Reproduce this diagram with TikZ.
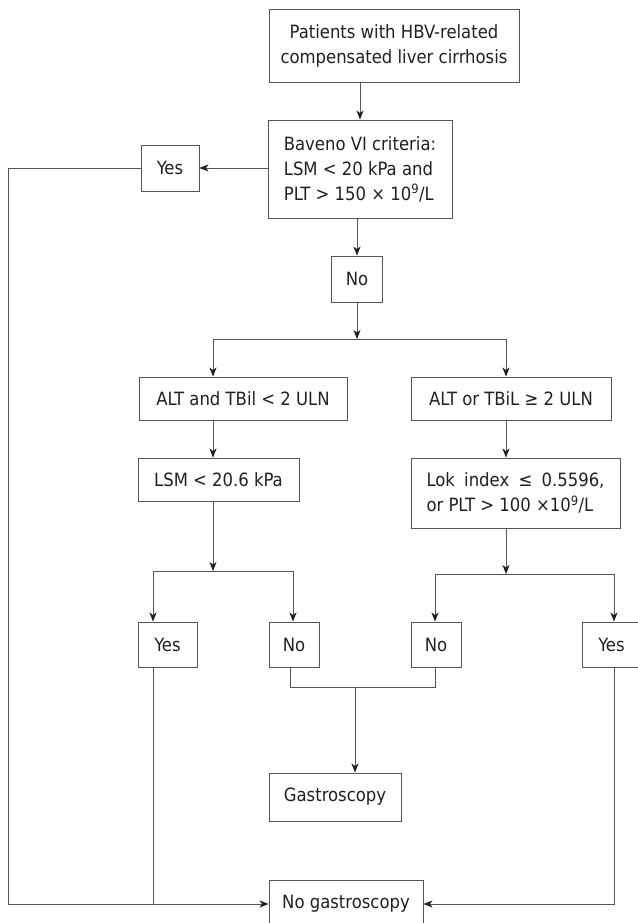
\documentclass[tikz,border=0pt]{standalone}
\usepackage{fontspec}
\setmainfont{DejaVu Sans Condensed}
\usetikzlibrary{arrows.meta}
\definecolor{linegray}{RGB}{85,85,85}
\definecolor{textgray}{RGB}{35,31,32}

\begin{document}
\begin{tikzpicture}[x=1pt,y=-1pt]
    \useasboundingbox (0,0) rectangle (637,923);
    \tikzset{BoxStyle/.style = {%
        shape= rectangle,
        draw= linegray,
        line width= 0.9pt,
        text= textgray,
        inner sep= 0pt,
        font= \fontsize{18.3}{25}\selectfont,%
        align= center},
      EdgeStyle/.style = {draw= linegray, line width= 0.9pt},
      ArrowStyle/.style = {EdgeStyle,
        -{Stealth[length=9pt,width=7pt,inset=2.5pt,color=textgray]}}}
    \node[BoxStyle,minimum width=250,minimum height=73] (pat) at (394,45.5)
        {Patients with HBV-related\\compensated liver cirrhosis};
    \node[BoxStyle,minimum width=184,minimum height=98,align=left] (bav) at (360,169)
        {Baveno VI criteria:\\LSM < 20 kPa and\\PLT > 150 × 10\textsuperscript{9}/L};
    \node[BoxStyle,minimum width=58,minimum height=46] (yes1) at (170,168) {Yes};
    \node[BoxStyle,minimum width=51,minimum height=46] (no1) at (357,279) {No};
    \node[BoxStyle,minimum width=208,minimum height=43] (alt1) at (243,398.5)
        {ALT and TBil < 2 ULN};
    \node[BoxStyle,minimum width=200,minimum height=43] (alt2) at (511,398.5)
        {ALT or TBiL ≥ 2 ULN};
    \node[BoxStyle,minimum width=161,minimum height=43] (lsm) at (218.5,479.5)
        {LSM < 20.6 kPa};
    \node[BoxStyle,minimum width=209,minimum height=70,align=left] (lok) at (515.5,493)
        {\makebox[178pt][s]{Lok index ≤ 0.5596,}\\or PLT > 100 ×10\textsuperscript{9}/L};
    \node[BoxStyle,minimum width=59,minimum height=45] (yesL) at (167.5,644.5) {Yes};
    \node[BoxStyle,minimum width=50,minimum height=45] (noL) at (294,644.5) {No};
    \node[BoxStyle,minimum width=50,minimum height=45] (noR) at (436,644.5) {No};
    \node[BoxStyle,minimum width=59,minimum height=45] (yesR) at (611.5,644.5) {Yes};
    \node[BoxStyle,minimum width=132,minimum height=48] (gas) at (335,797) {Gastroscopy};
    \node[BoxStyle,minimum width=154,minimum height=48] (nogas) at (346,904) {No gastroscopy};
    % bend points
    \coordinate (lft) at (8,904);
    \coordinate (aL) at (213,339);
    \coordinate (aR) at (506,339);
    \coordinate (bL) at (153,571);
    \coordinate (bR) at (293,571);
    \coordinate (cL) at (435,574);
    \coordinate (cR) at (614,574);
    \coordinate (dL) at (290,687);
    \coordinate (dM) at (355,687);
    \coordinate (dR) at (435,687);
    % top
    \draw[ArrowStyle] (pat.south -| bav.north) -- (bav.north);
    \draw[ArrowStyle] (bav.west |- yes1.east) -- (yes1.east);
    \draw[ArrowStyle] (bav.south -| no1.north) -- (no1.north);
    \draw[ArrowStyle] (yes1.west) -| (lft) -- (nogas.west);
    % first split
    \draw[ArrowStyle] (no1.south) -- (no1.south |- aL);
    \draw[EdgeStyle] (aL) -- (aR);
    \draw[ArrowStyle] (aL) -- (aL |- alt1.north);
    \draw[ArrowStyle] (aR) -- (aR |- alt2.north);
    \draw[ArrowStyle] (aL |- alt1.south) -- (aL |- lsm.north);
    \draw[ArrowStyle] (aR |- alt2.south) -- (aR |- lok.north);
    % left branch
    \draw[ArrowStyle] (aL |- lsm.south) -- (aL |- bL);
    \draw[EdgeStyle] (bL) -- (bR);
    \draw[ArrowStyle] (bL) -- (bL |- yesL.north);
    \draw[ArrowStyle] (bR) -- (bR |- noL.north);
    % right branch
    \draw[ArrowStyle] (aR |- lok.south) -- (aR |- cL);
    \draw[EdgeStyle] (cL) -- (cR);
    \draw[ArrowStyle] (cL) -- (cL |- noR.north);
    \draw[ArrowStyle] (cR) -- (cR |- yesR.north);
    % bottom
    \draw[EdgeStyle] (dL |- noL.south) -- (dL) -- (dR) -- (dR |- noR.south);
    \draw[ArrowStyle] (dM) -- (dM |- gas.north);
    \draw[EdgeStyle] (bL |- yesL.south) -- (bL |- lft);
    \draw[ArrowStyle] (cR |- yesR.south) |- (nogas.east);
\end{tikzpicture}
\end{document}
